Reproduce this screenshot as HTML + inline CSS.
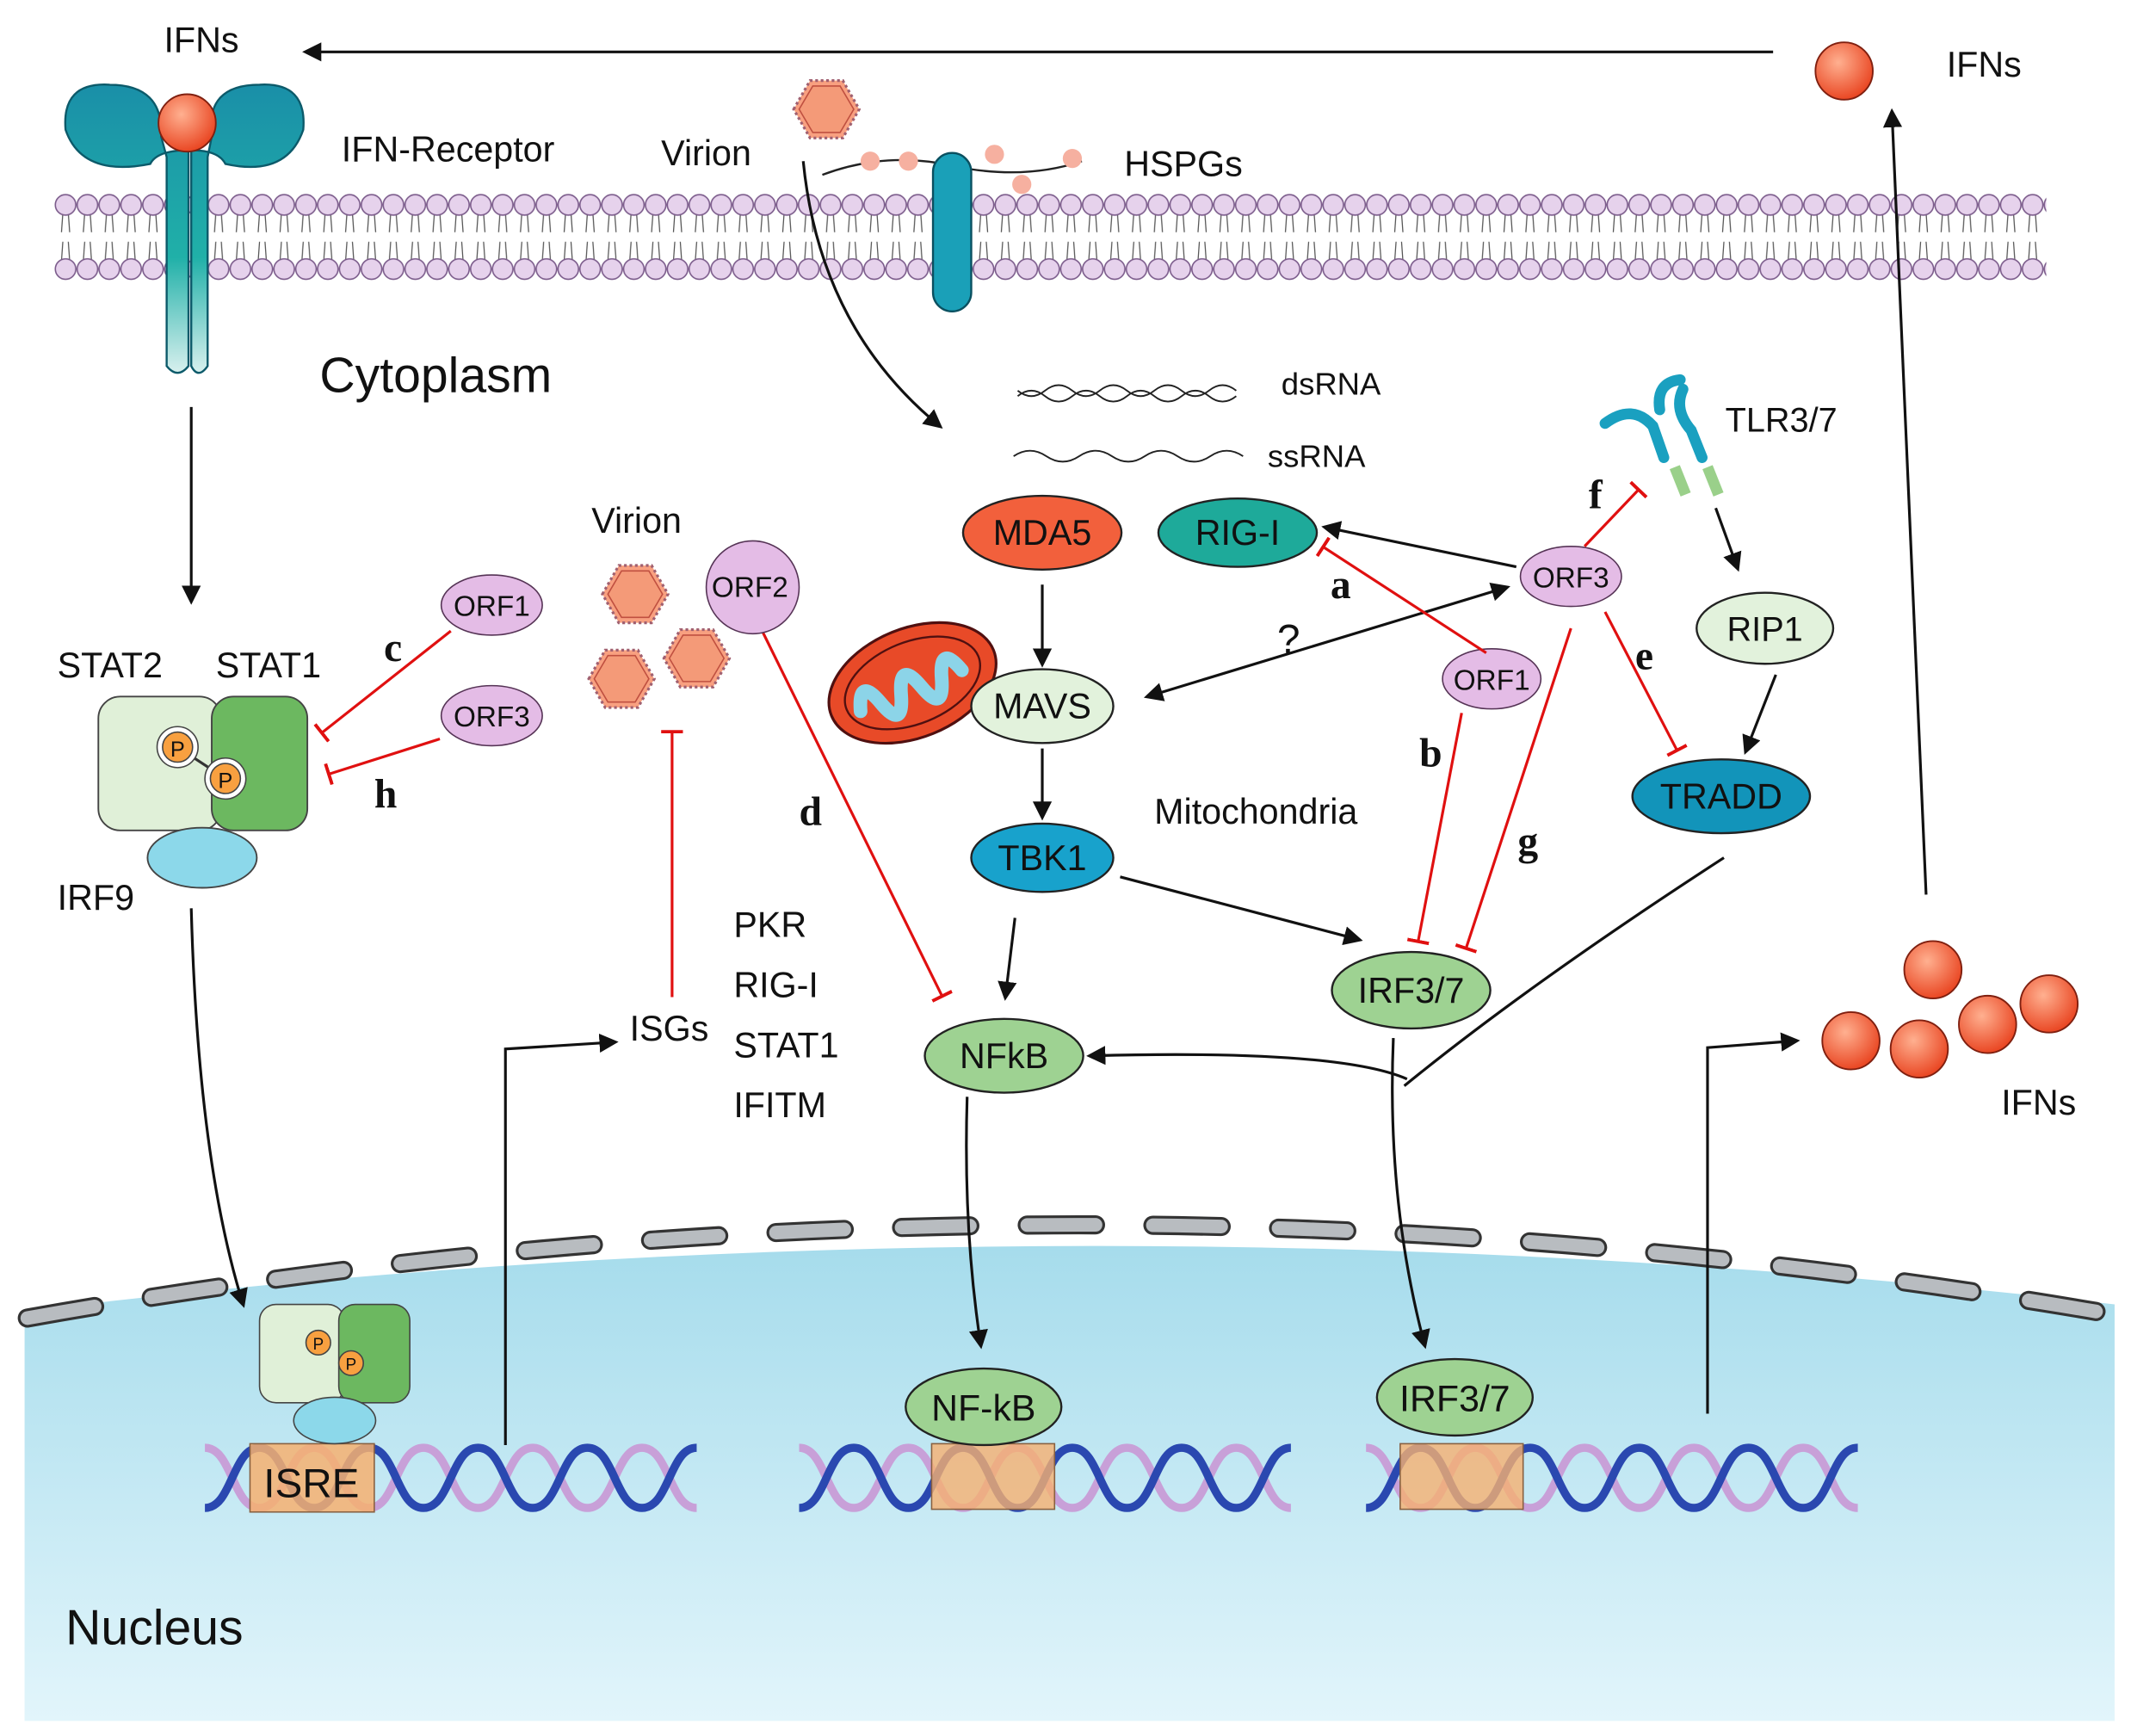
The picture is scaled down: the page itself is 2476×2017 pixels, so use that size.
<!DOCTYPE html>
<html><head><meta charset="utf-8"><style>
html,body{margin:0;padding:0;background:#fff;}
svg{display:block}
text{font-family:"Liberation Sans",sans-serif;fill:#111}
.l{font-family:"Liberation Serif",serif;font-weight:bold;font-size:30px}
</style></head><body>
<svg width="2476" height="2017" viewBox="0 0 1560 1271" preserveAspectRatio="none" xmlns="http://www.w3.org/2000/svg">
<defs>
<marker id="ar" viewBox="0 0 10 10" refX="8" refY="5" markerWidth="7" markerHeight="7" orient="auto-start-reverse"><path d="M0,0 L10,5 L0,10 z" fill="#111"/></marker>
<marker id="tb" viewBox="0 0 4 16" refX="2" refY="8" markerWidth="4" markerHeight="16" markerUnits="userSpaceOnUse" orient="auto"><rect x="0" y="0" width="2.5" height="16" fill="#e01010"/></marker>
<pattern id="lip" x="40" y="140" width="16" height="68" patternUnits="userSpaceOnUse">
<line x1="6" y1="16" x2="5" y2="30" stroke="#555" stroke-width="0.8"/><line x1="10" y1="16" x2="11" y2="30" stroke="#555" stroke-width="0.8"/>
<line x1="6" y1="37" x2="5" y2="51" stroke="#555" stroke-width="0.8"/><line x1="10" y1="37" x2="11" y2="51" stroke="#555" stroke-width="0.8"/>
<circle cx="8" cy="10" r="7.5" fill="#e6d2ec" stroke="#7a5a8a" stroke-width="1"/>
<circle cx="8" cy="57" r="7.5" fill="#e6d2ec" stroke="#7a5a8a" stroke-width="1"/>
</pattern>
<linearGradient id="nuc" x1="0" y1="0" x2="0" y2="1"><stop offset="0" stop-color="#a6dcec"/><stop offset="1" stop-color="#e2f5fb"/></linearGradient>
<linearGradient id="rec" x1="0" y1="0" x2="0" y2="1"><stop offset="0" stop-color="#1a8fa8"/><stop offset="0.6" stop-color="#20b0a8"/><stop offset="1" stop-color="#d8f0ee"/></linearGradient>
<radialGradient id="ball" cx="0.4" cy="0.35" r="0.7"><stop offset="0" stop-color="#ffb090"/><stop offset="1" stop-color="#e8401c"/></radialGradient>
<g id="hex"><polygon points="-24,0 -12,-21 12,-21 24,0 12,21 -12,21" fill="#f8a080" stroke="#a06070" stroke-width="2" stroke-dasharray="2 2"/><polygon points="-20,0 -10,-17 10,-17 20,0 10,17 -10,17" fill="#f49a78" stroke="#c05040" stroke-width="1"/></g>
<g id="ifn"><circle r="21" fill="url(#ball)" stroke="#802010" stroke-width="1.2"/></g>
</defs>

<!-- nucleus -->
<path d="M18,960 Q780,867 1548,955 L1548,1260 L18,1260 Z" fill="url(#nuc)"/>
<path d="M20,965 Q780,830 1545,962" fill="none" stroke="#333" stroke-width="14" stroke-dasharray="50 42" stroke-linecap="round"/>
<path d="M20,965 Q780,830 1545,962" fill="none" stroke="#b8bcc0" stroke-width="10" stroke-dasharray="50 42" stroke-linecap="round"/>

<!-- membrane -->
<rect x="40" y="140" width="1458" height="68" fill="url(#lip)"/>

<!-- top arrow IFNs -->
<text x="120" y="38" font-size="26">IFNs</text>
<line x1="1298" y1="38" x2="224" y2="38" stroke="#111" stroke-width="2" marker-end="url(#ar)"/>
<use href="#ifn" x="1350" y="52"/>
<text x="1425" y="56" font-size="26">IFNs</text>
<path d="M1410,655 L1385,82" stroke="#111" stroke-width="2" fill="none" marker-end="url(#ar)"/>

<!-- IFN receptor -->
<path d="M48,95 Q45,60 80,62 Q120,62 118,100 L122,115 L122,268 Q130,278 138,268 L138,110 Q115,110 110,120 Q60,130 48,95 Z" fill="url(#rec)" stroke="#0c5a6a" stroke-width="1.5"/>
<path d="M222,95 Q225,60 190,62 Q150,62 155,100 L152,115 L152,268 Q145,278 140,268 L140,110 Q160,110 165,120 Q210,130 222,95 Z" fill="url(#rec)" stroke="#0c5a6a" stroke-width="1.5"/>
<use href="#ifn" x="137" y="90"/>
<text x="250" y="118" font-size="26">IFN-Receptor</text>
<text x="234" y="287" font-size="36">Cytoplasm</text>

<!-- virion / HSPGs -->
<use href="#hex" x="605" y="80"/>
<text x="484" y="121" font-size="26">Virion</text>
<path d="M602,128 Q650,110 700,122 Q750,132 792,118" fill="none" stroke="#222" stroke-width="1.5"/>
<circle cx="637" cy="118" r="7" fill="#f6b0a0"/><circle cx="665" cy="118" r="7" fill="#f6b0a0"/><circle cx="728" cy="113" r="7" fill="#f6b0a0"/><circle cx="748" cy="135" r="7" fill="#f6b0a0"/><circle cx="785" cy="116" r="7" fill="#f6b0a0"/>
<rect x="683" y="112" width="28" height="116" rx="14" fill="#1aa0b8" stroke="#0a5060" stroke-width="1.5"/>
<text x="823" y="129" font-size="26">HSPGs</text>
<path d="M588,118 Q600,240 688,312" fill="none" stroke="#111" stroke-width="2" marker-end="url(#ar)"/>

<!-- RNA -->
<path d="M745,290 q10,-8 20,0 t20,0 t20,0 t20,0 t20,0 t20,0 t20,0 t20,0" fill="none" stroke="#222" stroke-width="1.2"/>
<path d="M745,286 q10,8 20,0 t20,0 t20,0 t20,0 t20,0 t20,0 t20,0 t20,0" fill="none" stroke="#222" stroke-width="1.2"/>
<text x="938" y="289" font-size="23">dsRNA</text>
<path d="M742,334 q12,-8 24,0 t24,0 t24,0 t24,0 t24,0 t24,0 t24,0" fill="none" stroke="#222" stroke-width="1.2"/>
<text x="928" y="342" font-size="23">ssRNA</text>

<!-- TLR3/7 -->
<path d="M1175,310 Q1195,295 1210,312 L1218,335 M1215,300 Q1212,280 1230,278 M1232,285 Q1225,300 1238,315 L1246,335" fill="none" stroke="#1aa0c0" stroke-width="8" stroke-linecap="round"/>
<line x1="1226" y1="342" x2="1234" y2="362" stroke="#9ad08a" stroke-width="8"/><line x1="1250" y1="342" x2="1258" y2="362" stroke="#9ad08a" stroke-width="8"/>
<text x="1263" y="316" font-size="25">TLR3/7</text>
<line x1="1256" y1="372" x2="1272" y2="416" stroke="#111" stroke-width="2" marker-end="url(#ar)"/>

<!-- mitochondria -->
<g transform="rotate(-22 668 500)">
<ellipse cx="668" cy="500" rx="64" ry="40" fill="#e84a28" stroke="#501010" stroke-width="2"/>
<ellipse cx="668" cy="500" rx="52" ry="30" fill="none" stroke="#501010" stroke-width="1.5"/>
<path d="M625,505 q8,-25 16,0 q8,25 16,0 q8,-25 16,0 q8,25 16,0 q8,-25 16,0" fill="none" stroke="#8cd4e8" stroke-width="10" stroke-linecap="round"/>
</g>

<!-- pathway nodes -->
<ellipse cx="763" cy="390" rx="58" ry="27" fill="#f2603c" stroke="#222" stroke-width="1.5"/><text x="763" y="399" font-size="26" text-anchor="middle">MDA5</text>
<ellipse cx="906" cy="390" rx="58" ry="25" fill="#1eaa9a" stroke="#222" stroke-width="1.5"/><text x="906" y="399" font-size="26" text-anchor="middle">RIG-I</text>
<ellipse cx="1150" cy="422" rx="37" ry="22" fill="#e4bce6" stroke="#553355" stroke-width="1"/><text x="1150" y="430" font-size="21" text-anchor="middle">ORF3</text>
<ellipse cx="1292" cy="460" rx="50" ry="26" fill="#e2f2dc" stroke="#222" stroke-width="1.5"/><text x="1292" y="469" font-size="25" text-anchor="middle">RIP1</text>
<ellipse cx="1260" cy="583" rx="65" ry="27" fill="#1294ba" stroke="#222" stroke-width="1.5"/><text x="1260" y="592" font-size="26" text-anchor="middle">TRADD</text>
<ellipse cx="1092" cy="497" rx="36" ry="22" fill="#e4bce6" stroke="#553355" stroke-width="1"/><text x="1092" y="505" font-size="21" text-anchor="middle">ORF1</text>
<ellipse cx="763" cy="517" rx="52" ry="27" fill="#e2f2dc" stroke="#222" stroke-width="1.5"/><text x="763" y="526" font-size="26" text-anchor="middle">MAVS</text>
<ellipse cx="763" cy="628" rx="52" ry="25" fill="#18a2cc" stroke="#222" stroke-width="1.5"/><text x="763" y="637" font-size="26" text-anchor="middle">TBK1</text>
<text x="845" y="603" font-size="26">Mitochondria</text>
<ellipse cx="1033" cy="725" rx="58" ry="28" fill="#9ed292" stroke="#222" stroke-width="1.5"/><text x="1033" y="734" font-size="26" text-anchor="middle">IRF3/7</text>
<ellipse cx="735" cy="773" rx="58" ry="27" fill="#9ed292" stroke="#222" stroke-width="1.5"/><text x="735" y="782" font-size="26" text-anchor="middle">NFkB</text>

<!-- black arrows -->
<line x1="763" y1="428" x2="763" y2="486" stroke="#111" stroke-width="2" marker-end="url(#ar)"/>
<line x1="763" y1="548" x2="763" y2="598" stroke="#111" stroke-width="2" marker-end="url(#ar)"/>
<line x1="1110" y1="415" x2="970" y2="386" stroke="#111" stroke-width="2" marker-end="url(#ar)"/>
<line x1="1103" y1="430" x2="840" y2="510" stroke="#111" stroke-width="2" marker-end="url(#ar)" marker-start="url(#ar)"/>
<text x="935" y="478" font-size="30" font-family="Liberation Serif">?</text>
<line x1="1300" y1="494" x2="1278" y2="550" stroke="#111" stroke-width="2" marker-end="url(#ar)"/>
<line x1="820" y1="642" x2="995" y2="688" stroke="#111" stroke-width="2" marker-end="url(#ar)"/>
<line x1="743" y1="672" x2="736" y2="730" stroke="#111" stroke-width="2" marker-end="url(#ar)"/>
<path d="M1262,628 Q1120,720 1028,795" fill="none" stroke="#111" stroke-width="2"/>
<path d="M1030,790 Q980,768 798,773" fill="none" stroke="#111" stroke-width="2" marker-end="url(#ar)"/>
<path d="M1020,760 Q1015,880 1043,985" fill="none" stroke="#111" stroke-width="2" marker-end="url(#ar)"/>
<path d="M708,803 Q705,900 718,985" fill="none" stroke="#111" stroke-width="2" marker-end="url(#ar)"/>

<!-- red inhibitors -->
<line x1="1160" y1="400" x2="1200" y2="358" stroke="#e01010" stroke-width="2" marker-end="url(#tb)"/>
<line x1="1175" y1="448" x2="1228" y2="550" stroke="#e01010" stroke-width="2" marker-end="url(#tb)"/>
<line x1="1088" y1="478" x2="968" y2="400" stroke="#e01010" stroke-width="2" marker-end="url(#tb)"/>
<line x1="1070" y1="522" x2="1038" y2="690" stroke="#e01010" stroke-width="2" marker-end="url(#tb)"/>
<line x1="1150" y1="460" x2="1073" y2="695" stroke="#e01010" stroke-width="2" marker-end="url(#tb)"/>
<line x1="557" y1="460" x2="690" y2="730" stroke="#e01010" stroke-width="2" marker-end="url(#tb)"/>
<line x1="492" y1="730" x2="492" y2="535" stroke="#e01010" stroke-width="2" marker-end="url(#tb)"/>
<line x1="330" y1="462" x2="235" y2="537" stroke="#e01010" stroke-width="2" marker-end="url(#tb)"/>
<line x1="322" y1="541" x2="240" y2="567" stroke="#e01010" stroke-width="2" marker-end="url(#tb)"/>

<text class="l" x="974" y="438">a</text><text class="l" x="1039" y="561">b</text><text class="l" x="281" y="484">c</text><text class="l" x="585" y="604">d</text><text class="l" x="1197" y="490">e</text><text class="l" x="1163" y="372">f</text><text class="l" x="1111" y="626">g</text><text class="l" x="274" y="591">h</text>

<!-- virions, ORF2 -->
<text x="433" y="390" font-size="26">Virion</text>
<use href="#hex" x="465" y="435"/><use href="#hex" x="455" y="497"/><use href="#hex" x="510" y="482"/>
<circle cx="551" cy="430" r="34" fill="#e4bce6" stroke="#553355" stroke-width="1"/><text x="549" y="437" font-size="21" text-anchor="middle">ORF2</text>
<text x="461" y="762" font-size="26">ISGs</text>
<text x="537" y="686" font-size="26">PKR</text><text x="537" y="730" font-size="26">RIG-I</text><text x="537" y="774" font-size="26">STAT1</text><text x="537" y="818" font-size="26">IFITM</text>

<!-- STAT complex -->
<text x="42" y="496" font-size="26">STAT2</text><text x="158" y="496" font-size="26">STAT1</text>
<rect x="72" y="510" width="90" height="98" rx="16" fill="#e0f0d8" stroke="#444" stroke-width="1.2"/>
<rect x="155" y="510" width="70" height="98" rx="16" fill="#6cb860" stroke="#444" stroke-width="1.2"/>
<ellipse cx="148" cy="628" rx="40" ry="22" fill="#8cd8ea" stroke="#444" stroke-width="1.2"/>
<line x1="130" y1="547" x2="165" y2="570" stroke="#333" stroke-width="2"/>
<circle cx="130" cy="547" r="15" fill="#fff" stroke="#444"/><circle cx="130" cy="547" r="11" fill="#f8a040" stroke="#444"/><text x="130" y="554" font-size="16" text-anchor="middle">P</text>
<circle cx="165" cy="570" r="15" fill="#fff" stroke="#444"/><circle cx="165" cy="570" r="11" fill="#f8a040" stroke="#444"/><text x="165" y="577" font-size="16" text-anchor="middle">P</text>
<text x="42" y="666" font-size="26">IRF9</text>
<ellipse cx="360" cy="443" rx="37" ry="22" fill="#e4bce6" stroke="#553355" stroke-width="1"/><text x="360" y="451" font-size="21" text-anchor="middle">ORF1</text>
<ellipse cx="360" cy="524" rx="37" ry="22" fill="#e4bce6" stroke="#553355" stroke-width="1"/><text x="360" y="532" font-size="21" text-anchor="middle">ORF3</text>
<line x1="140" y1="298" x2="140" y2="440" stroke="#111" stroke-width="2" marker-end="url(#ar)"/>
<path d="M140,665 Q145,850 178,955" fill="none" stroke="#111" stroke-width="2" marker-end="url(#ar)"/>

<!-- DNA -->
<g fill="none" stroke-width="6">
<path d="M150,1060 c20,0 20,44 40,44 s20,-44 40,-44 s20,44 40,44 s20,-44 40,-44 s20,44 40,44 s20,-44 40,-44 s20,44 40,44 s20,-44 40,-44 s20,44 40,44" stroke="#c8a0d8"/>
<path d="M150,1104 c20,0 20,-44 40,-44 s20,44 40,44 s20,-44 40,-44 s20,44 40,44 s20,-44 40,-44 s20,44 40,44 s20,-44 40,-44 s20,44 40,44 s20,-44 40,-44" stroke="#2a48b0"/>
<path d="M585,1060 c20,0 20,44 40,44 s20,-44 40,-44 s20,44 40,44 s20,-44 40,-44 s20,44 40,44 s20,-44 40,-44 s20,44 40,44 s20,-44 40,-44 s20,44 40,44" stroke="#c8a0d8"/>
<path d="M585,1104 c20,0 20,-44 40,-44 s20,44 40,44 s20,-44 40,-44 s20,44 40,44 s20,-44 40,-44 s20,44 40,44 s20,-44 40,-44 s20,44 40,44 s20,-44 40,-44" stroke="#2a48b0"/>
<path d="M1000,1060 c20,0 20,44 40,44 s20,-44 40,-44 s20,44 40,44 s20,-44 40,-44 s20,44 40,44 s20,-44 40,-44 s20,44 40,44 s20,-44 40,-44 s20,44 40,44" stroke="#c8a0d8"/>
<path d="M1000,1104 c20,0 20,-44 40,-44 s20,44 40,44 s20,-44 40,-44 s20,44 40,44 s20,-44 40,-44 s20,44 40,44 s20,-44 40,-44 s20,44 40,44 s20,-44 40,-44" stroke="#2a48b0"/>
</g>
<rect x="183" y="1057" width="91" height="50" fill="#f6b070" fill-opacity="0.85" stroke="#886040"/>
<text x="228" y="1096" font-size="30" text-anchor="middle">ISRE</text>
<rect x="682" y="1057" width="90" height="48" fill="#f6b070" fill-opacity="0.8" stroke="#886040"/>
<rect x="1025" y="1057" width="90" height="48" fill="#f6b070" fill-opacity="0.8" stroke="#886040"/>
<ellipse cx="720" cy="1030" rx="57" ry="28" fill="#9ed292" stroke="#222" stroke-width="1.5"/><text x="720" y="1040" font-size="27" text-anchor="middle">NF-kB</text>
<ellipse cx="1065" cy="1023" rx="57" ry="28" fill="#9ed292" stroke="#222" stroke-width="1.5"/><text x="1065" y="1033" font-size="27" text-anchor="middle">IRF3/7</text>

<!-- small STAT complex in nucleus -->
<rect x="190" y="955" width="62" height="72" rx="12" fill="#e0f0d8" stroke="#444"/>
<rect x="248" y="955" width="52" height="72" rx="12" fill="#6cb860" stroke="#444"/>
<ellipse cx="245" cy="1040" rx="30" ry="17" fill="#8cd8ea" stroke="#444"/>
<circle cx="233" cy="983" r="9" fill="#f8a040" stroke="#444"/><text x="233" y="988" font-size="12" text-anchor="middle">P</text>
<circle cx="257" cy="998" r="9" fill="#f8a040" stroke="#444"/><text x="257" y="1003" font-size="12" text-anchor="middle">P</text>

<path d="M370,1058 L370,768 L450,763" fill="none" stroke="#111" stroke-width="2" marker-end="url(#ar)"/>
<path d="M1250,1035 L1250,767 L1315,762" fill="none" stroke="#111" stroke-width="2" marker-end="url(#ar)"/>
<use href="#ifn" x="1415" y="710"/><use href="#ifn" x="1355" y="762"/><use href="#ifn" x="1405" y="768"/><use href="#ifn" x="1455" y="750"/><use href="#ifn" x="1500" y="735"/>
<text x="1465" y="816" font-size="26">IFNs</text>
<text x="48" y="1204" font-size="36">Nucleus</text>
</svg>
</body></html>
